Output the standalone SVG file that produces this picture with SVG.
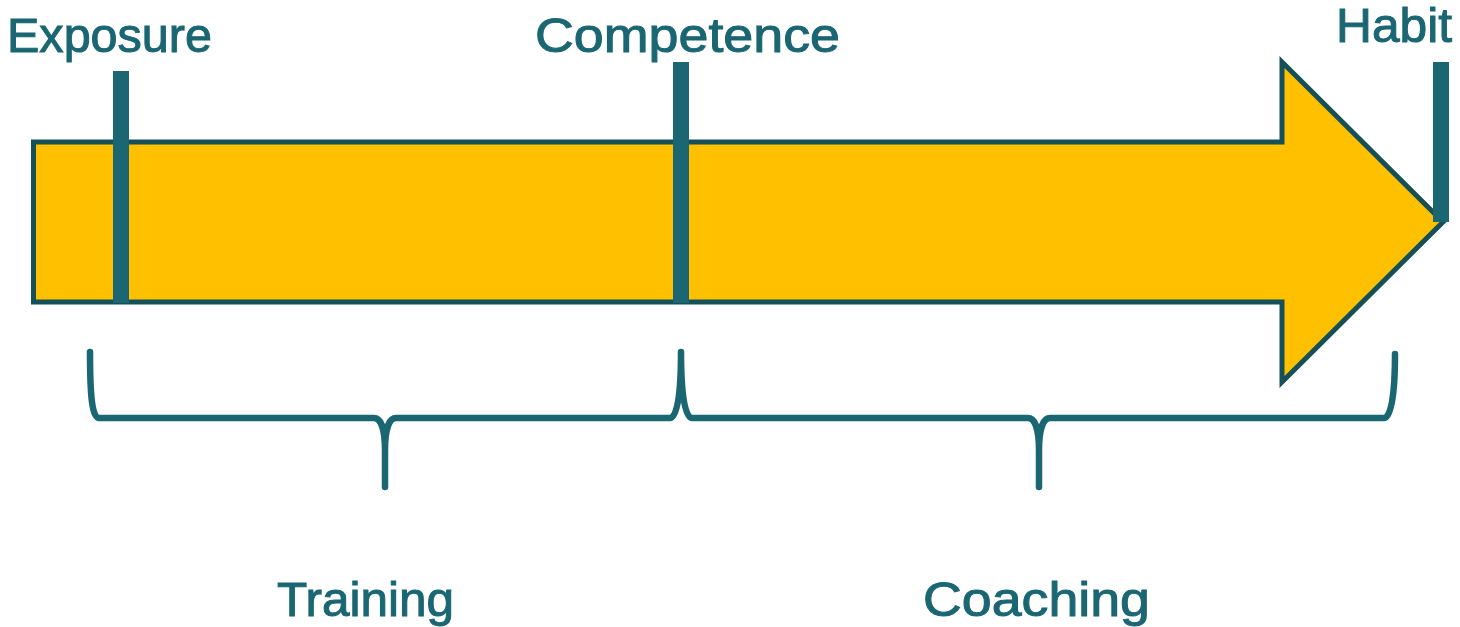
<svg xmlns="http://www.w3.org/2000/svg" width="1460" height="627" viewBox="0 0 1460 627">
<style>
.lbl{font-family:"Liberation Sans",Arial,sans-serif;font-size:48px;fill:#1A6672;stroke:#1A6672;stroke-width:1}
.bar{fill:#1A6672}
.brace{fill:none;stroke:#1A6672;stroke-width:6.5;stroke-linecap:round;stroke-linejoin:round}
</style>
<rect width="1460" height="627" fill="#ffffff"/>
<g id="arrow">
<path d="M33.5,142 L1282,142 L1282,62 L1443,222 L1282,382 L1282,302 L33.5,302 Z" fill="#FFC000" stroke="#154F58" stroke-width="5" stroke-linejoin="miter"/>
</g>
<g id="exposure">
<rect class="bar" x="113" y="71" width="16" height="232"/>
<text class="lbl" x="7" y="52" textLength="205" lengthAdjust="spacingAndGlyphs">Exposure</text>
</g>
<g id="competence">
<rect class="bar" x="673" y="62" width="16" height="241"/>
<text class="lbl" x="535" y="52" textLength="305" lengthAdjust="spacingAndGlyphs">Competence</text>
</g>
<g id="habit">
<rect class="bar" x="1433" y="62" width="16" height="160"/>
<text class="lbl" x="1336" y="42" textLength="116" lengthAdjust="spacingAndGlyphs">Habit</text>
</g>
<g id="connectors">
<path class="brace" d="M90,352 C90,395 92,418 99,418 L374,418 C381,418 385,430 385,450 L385,487 L385,450 C385,430 389,418 396,418 L670,418 C677,418 681,395 681,352 C681,395 685,418 692,418 L1028,418 C1035,418 1039,430 1039,450 L1039,487 L1039,450 C1039,430 1043,418 1050,418 L1384,418 C1391,418 1395,395 1395,354"/>
</g>
<g id="training">
<text class="lbl" x="277" y="616" textLength="177" lengthAdjust="spacingAndGlyphs">Training</text>
</g>
<g id="coaching">
<text class="lbl" x="923" y="616" textLength="227" lengthAdjust="spacingAndGlyphs">Coaching</text>
</g>
</svg>
